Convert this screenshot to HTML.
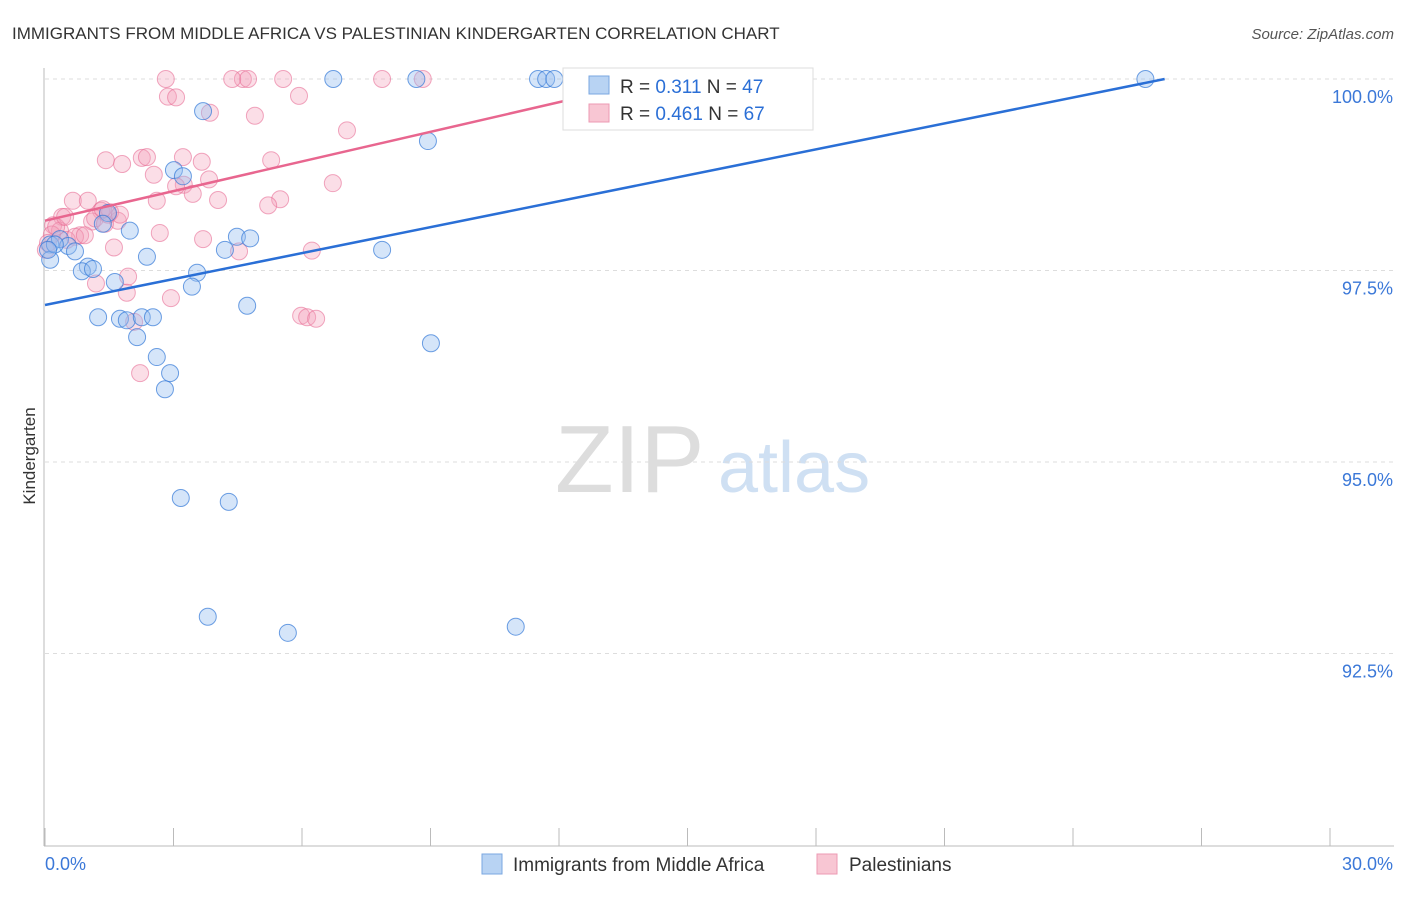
<!DOCTYPE html>
<html><head><meta charset="utf-8"><style>
body{margin:0;background:#fff;font-family:"Liberation Sans",sans-serif;}
svg text{font-family:"Liberation Sans",sans-serif;}
</style></head><body>
<svg width="1406" height="892" xmlns="http://www.w3.org/2000/svg" id="chart">
<text x="12" y="39" font-size="17" fill="#333">IMMIGRANTS FROM MIDDLE AFRICA VS PALESTINIAN KINDERGARTEN CORRELATION CHART</text>
<text x="1394" y="39" font-size="15" fill="#555" text-anchor="end" font-style="italic">Source: ZipAtlas.com</text>
<text x="35" y="456" font-size="17" fill="#333" text-anchor="middle" transform="rotate(-90 35 456)">Kindergarten</text>
<text x="555" y="492" font-size="96" fill="#ddd" font-family="Liberation Serif">ZIP</text>
<text x="718" y="492" font-size="72" fill="#cfe0f3">atlas</text>
<g id="grid"></g><g id="axes"></g><g id="pts"></g><g id="lines"></g>
<g>
<rect x="563" y="68" width="250" height="62" fill="#fff" stroke="#ddd"/>
<rect x="589" y="76" width="20" height="18" fill="#b8d3f3" stroke="#7aa7e0"/>
<rect x="589" y="104" width="20" height="18" fill="#f8c6d3" stroke="#ec9ab3"/>
<text x="620" y="93" font-size="19" fill="#333">R = <tspan fill="#2b6fd6">0.311</tspan>   N = <tspan fill="#2b6fd6">47</tspan></text>
<text x="620" y="120" font-size="19" fill="#333">R = <tspan fill="#2b6fd6">0.461</tspan>   N = <tspan fill="#2b6fd6">67</tspan></text>
</g>
<g>
<rect x="482" y="854" width="20" height="20" fill="#b8d3f3" stroke="#7aa7e0"/>
<text x="513" y="871" font-size="19" fill="#333">Immigrants from Middle Africa</text>
<rect x="817" y="854" width="20" height="20" fill="#f8c6d3" stroke="#ec9ab3"/>
<text x="849" y="871" font-size="19" fill="#333">Palestinians</text>
</g>
</svg>
<script>
const xTicks=[0,3,6,9,12,15,18,21,24,27,30];
const yTicks=[92.5,95,97.5,100];
const blueX=[6.73,8.67,11.51,11.7,11.89,25.69,3.69,8.94,3.01,3.22,1.47,1.35,1.98,4.48,4.79,4.2,2.38,7.87,0.12,0.35,0.54,0.7,1.0,0.86,1.12,1.63,3.55,3.43,4.72,1.24,1.75,1.91,2.26,2.52,2.15,2.61,2.92,2.8,9.01,3.17,4.29,3.8,5.67,10.99,0.12,0.23,0.07];
const blueY=[100,100,100,100,100,100,99.58,99.19,98.81,98.73,98.25,98.11,98.02,97.94,97.92,97.77,97.68,97.77,97.84,97.91,97.82,97.75,97.55,97.49,97.52,97.35,97.47,97.29,97.04,96.89,96.87,96.85,96.89,96.89,96.63,96.37,96.16,95.95,96.55,94.53,94.48,92.98,92.77,92.85,97.64,97.84,97.77];
const pinkX=[2.82,4.62,4.74,4.37,5.56,7.87,8.82,2.87,3.06,5.93,3.85,4.9,7.05,3.22,1.42,1.8,2.26,2.38,3.66,5.28,2.54,3.24,3.83,6.72,3.45,4.04,2.61,0.65,1.0,5.49,5.21,0.4,1.31,1.52,1.7,1.1,0.19,0.35,0.82,0.51,0.7,2.68,3.69,1.61,4.53,6.23,1.94,1.19,2.94,1.91,5.98,6.12,6.33,2.08,2.22,0.02,0.16,0.26,0.07,0.93,1.17,1.4,0.47,3.06,1.47,1.75,1.35];
const pinkY=[100,100,100,100,100,100,100,99.77,99.76,99.78,99.56,99.52,99.33,98.98,98.94,98.89,98.97,98.98,98.92,98.94,98.75,98.62,98.69,98.64,98.5,98.42,98.41,98.41,98.41,98.43,98.35,98.2,98.28,98.26,98.15,98.14,98.09,98.02,97.96,97.9,97.94,97.99,97.91,97.8,97.75,97.76,97.42,97.33,97.14,97.21,96.91,96.89,96.87,96.83,96.16,97.77,97.97,98.07,97.86,97.96,98.18,98.11,98.2,98.6,98.23,98.23,98.3];
const blueFit=[97.05,100];const blueFitX=[0,26.14];
const pinkFit=[98.15,100];const pinkFitX=[0,14.35];
const NS="http://www.w3.org/2000/svg";
const X=v=>45+v/30*1285, Y=v=>79+(100-v)*76.6;
function mk(t,a,p){const e=document.createElementNS(NS,t);for(const k in a)e.setAttribute(k,a[k]);document.getElementById(p).appendChild(e);return e;}
yTicks.forEach(t=>{
 const g=mk('line',{x1:45,x2:1394,y1:Y(t),y2:Y(t),stroke:'#ddd','stroke-dasharray':'4 4'},'grid');
 
 
 const l=mk('text',{x:1393,y:Y(t)+24,'font-size':18,fill:'#3b78d8','text-anchor':'end'},'axes');l.textContent=t.toFixed(1)+'%';
 
 
});
mk('line',{x1:44,x2:44,y1:68,y2:846,stroke:'#bbb'},'axes');
mk('line',{x1:44,x2:1394,y1:846,y2:846,stroke:'#bbb'},'axes');
xTicks.forEach(t=>{const e=mk('line',{x1:X(t),x2:X(t),y1:828,y2:846,stroke:'#bbb'},'axes');
 
 });
[[0,'start'],[30,'end']].forEach(([t,a])=>{const l=mk('text',{x:t==0?45:1393,y:870,'font-size':18,fill:'#3b78d8','text-anchor':a},'axes');l.textContent=t.toFixed(1)+'%';
 
 });
pinkX.forEach((v,i)=>{const c=mk('circle',{cx:X(v),cy:Y(pinkY[i]),r:8.5,fill:'rgba(244,160,185,0.35)',stroke:'rgba(232,110,150,0.6)'},'pts');
 
 });
blueX.forEach((v,i)=>{const c=mk('circle',{cx:X(v),cy:Y(blueY[i]),r:8.5,fill:'rgba(150,190,240,0.4)',stroke:'rgba(50,120,215,0.7)'},'pts');
 
 });
const bl=mk('line',{x1:X(blueFitX[0]),y1:Y(blueFit[0]),x2:X(blueFitX[1]),y2:Y(blueFit[1]),stroke:'#2a6fd6','stroke-width':2.5},'lines');


const pl=mk('line',{x1:X(pinkFitX[0]),y1:Y(pinkFit[0]),x2:X(pinkFitX[1]),y2:Y(pinkFit[1]),stroke:'#e8668f','stroke-width':2.5},'lines');


</script>
</body></html>
